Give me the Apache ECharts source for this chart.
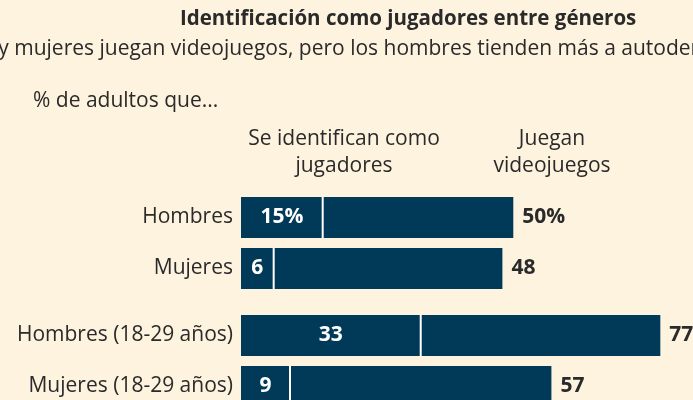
<!DOCTYPE html>
<html>
<head>
<meta charset="utf-8">
<script src="https://cdn.jsdelivr.net/npm/echarts@6/dist/echarts.min.js"></script>
<style>
  html, body { margin: 0; padding: 0; background: #FDF3DF; }
  #chart { width: 693px; height: 400px; }
</style>
</head>
<body>
<div id="chart"></div>
<script>
// All adults
const groupAll = ['Hombres', 'Mujeres'];
const identifyAll = [15, 6];   // se identifican como jugadores
const playAll = [50, 48];      // juegan videojuegos

// Adults 18-29
const groupYoung = ['Hombres (18-29 años)', 'Mujeres (18-29 años)'];
const identifyYoung = [33, 9];
const playYoung = [77, 57];

const headerIdentify = 'Se identifican como\njugadores';
const headerPlay = 'Juegan\nvideojuegos';

const NAVY = '#013A58';
const INK = '#2A2A2A';
const FONT = '"Open Sans", "Noto Sans", sans-serif';
const BODY = 21;

const chart = echarts.init(document.getElementById('chart'), null, { renderer: 'canvas' });

// second block runs past the bottom edge, so the last bar is cut off
const grids = [
  { left: 241, right: 0, top: 192, height: 102, outerBoundsMode: 'none' },
  { left: 241, right: 0, top: 310, height: 102, outerBoundsMode: 'none' }
];

function axesFor(idx, cats) {
  return {
    x: {
      type: 'value', gridIndex: idx, min: 0, max: 83,
      show: false
    },
    y: {
      type: 'category', gridIndex: idx, data: cats, inverse: true,
      axisLine: { show: false }, axisTick: { show: false },
      axisLabel: { color: INK, fontFamily: FONT, fontSize: BODY, margin: 8 }
    }
  };
}

function seriesFor(idx, identify, play, withPct) {
  const rest = play.map((p, i) => p - identify[i]);
  return [
    {
      type: 'bar', xAxisIndex: idx, yAxisIndex: idx, stack: 'g' + idx,
      barWidth: 41, data: identify, itemStyle: { color: NAVY },
      label: {
        show: true, position: 'inside', color: '#fff', fontFamily: FONT,
        fontWeight: 'bold', fontSize: BODY,
        formatter: p => p.value + (withPct && p.dataIndex === 0 ? '%' : '')
      },
      animation: false
    },
    {
      type: 'bar', xAxisIndex: idx, yAxisIndex: idx, stack: 'g' + idx,
      barWidth: 41, data: rest, itemStyle: { color: NAVY },
      label: {
        show: true, position: 'right', distance: 9, color: INK, fontFamily: FONT,
        fontWeight: 'bold', fontSize: BODY,
        formatter: p => play[p.dataIndex] + (withPct && p.dataIndex === 0 ? '%' : '')
      },
      animation: false
    },
    {
      // white divider at the "se identifican" value
      type: 'scatter', xAxisIndex: idx, yAxisIndex: idx,
      data: identify.map((v, i) => [v, i]),
      symbol: 'rect', symbolSize: [2, 41],
      itemStyle: { color: '#ffffff', opacity: 1 },
      z: 5, silent: true, animation: false
    }
  ];
}

const a0 = axesFor(0, groupAll);
const a1 = axesFor(1, groupYoung);

chart.setOption({
  backgroundColor: '#FDF3DF',
  animation: false,
  grid: grids,
  xAxis: [a0.x, a1.x],
  yAxis: [a0.y, a1.y],
  series: [
    ...seriesFor(0, identifyAll, playAll, true),
    ...seriesFor(1, identifyYoung, playYoung, false)
  ],
  graphic: [
    {
      type: 'text', left: 180, top: 9,
      style: { text: 'Identificación como jugadores entre géneros', fill: INK,
               font: 'bold 20.5px ' + FONT }
    },
    {
      type: 'text', left: -98, top: 39,
      style: { text: 'Hombres y mujeres juegan videojuegos, pero los hombres tienden más a autodenominarse jugadores',
               fill: INK, font: BODY + 'px ' + FONT }
    },
    {
      type: 'text', left: 33, top: 91,
      style: { text: '% de adultos que...', fill: INK, font: BODY + 'px ' + FONT }
    },
    {
      type: 'text', x: 344, y: 126,
      style: { text: headerIdentify, fill: INK, font: BODY + 'px ' + FONT,
               align: 'center', lineHeight: 27 }
    },
    {
      type: 'text', x: 552, y: 126,
      style: { text: headerPlay, fill: INK, font: BODY + 'px ' + FONT,
               align: 'center', lineHeight: 27 }
    }
  ]
});
</script>
</body>
</html>
